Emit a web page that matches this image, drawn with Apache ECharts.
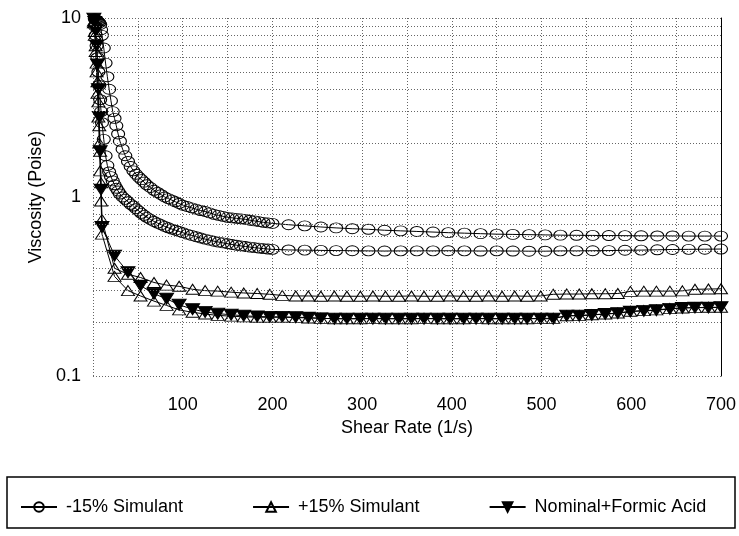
<!DOCTYPE html>
<html>
<head>
<meta charset="utf-8">
<script src="https://cdn.jsdelivr.net/npm/echarts@6/dist/echarts.min.js"></script>
<style>
  html, body { margin: 0; padding: 0; background: #fff; }
  #chart { width: 739px; height: 536px; }
</style>
</head>
<body>
<div id="chart"></div>
<script>
  // shear rate samples (1/s)
  var shearCirc = [2,3,4,5,6,7,8,9,10,12,14,16,18,20,22,24,26,28,30,33,36,39,42,45,48,51,54,57,
    60,64,68,72,76,80,84,88,92,96,100,105,110,115,120,125,130,135,140,145,150,155,160,165,170,175,
    180,185,190,195,200,218,236,254,271,289,307,325,343,361,379,396,414,432,450,468,486,504,521,
    539,557,575,593,611,629,646,664,682,700];
  var shearTri = [1,2,3,4,5,6,7,8,9,10,24,39,53,68,82,96,111,125,139,154,168,183,197,211,226,240,
    254,269,283,298,312,326,341,355,369,384,398,413,427,441,456,470,484,499,513,528,542,556,571,
    585,599,614,628,643,657,671,686,700];

  // viscosity (Poise)
  var minus15a = [9.9,9.8,9.7,9.6,9.5,9.4,9.2,8.6,8.0, 6.8,5.6,4.7,4.0,3.45,3.0,2.75,2.5,2.25,2.05,
    1.85,1.7,1.58,1.48,1.4,1.34,1.29,1.25,1.21, 1.17,1.13,1.09,1.06,1.03,1.0,0.98,0.96,0.94,0.92,0.90,
    0.885,0.87,0.855,0.84,0.83,0.815,0.80,0.79,0.78,0.77,0.765,0.76,0.755,0.75,0.742,0.735,0.728,0.722,0.717,0.712,
    0.70,0.69,0.68,0.672,0.665,0.66,0.652,0.647,0.642,0.637,0.632,0.628,0.624,0.62,0.618,0.616,0.614,
    0.612,0.611,0.61,0.609,0.608,0.607,0.606,0.606,0.605,0.605,0.605];
  var minus15b = [9.0,8.0,7.0,6.0,5.0,4.2,3.5,3.0,2.6, 2.1,1.7,1.5,1.38,1.3,1.23,1.17,1.12,1.08,1.04,
    1.0,0.97,0.94,0.91,0.89,0.86,0.835,0.81,0.79, 0.77,0.75,0.73,0.715,0.70,0.685,0.673,0.662,0.652,0.642,0.632,
    0.62,0.61,0.60,0.59,0.582,0.574,0.566,0.56,0.554,0.548,0.543,0.538,0.533,0.529,0.525,0.521,0.518,0.515,0.512,0.51,
    0.506,0.505,0.503,0.502,0.501,0.50,0.499,0.50,0.50,0.50,0.501,0.50,0.499,0.50,0.499,0.498,0.498,
    0.50,0.50,0.501,0.502,0.504,0.505,0.507,0.509,0.51,0.511,0.512];
  var plus15a = [9.6,8.4,7.0,5.6,4.4,3.4,2.5,1.8,1.2,0.75,
    0.40,0.37,0.355,0.333,0.322,0.317,0.305,0.30,0.298,0.294,0.291,0.289,0.286,0.282,0.28,0.28,0.279,
    0.28,0.279,0.279,0.28,0.279,0.279,0.28,0.279,0.279,0.28,0.279,0.279,0.28,0.279,0.28,0.279,0.28,
    0.286,0.287,0.287,0.288,0.288,0.289,0.297,0.298,0.298,0.298,0.299,0.305,0.306,0.307];
  var plus15b = [9.4,8.0,6.5,5.0,3.8,2.8,2.0,1.4,0.95,0.62,
    0.36,0.30,0.28,0.262,0.248,0.234,0.227,0.222,0.218,0.216,0.214,0.213,0.213,0.213,0.212,0.211,0.21,
    0.209,0.209,0.209,0.21,0.209,0.209,0.209,0.21,0.209,0.209,0.209,0.21,0.209,0.209,0.209,0.209,0.21,
    0.21,0.217,0.218,0.22,0.222,0.225,0.23,0.232,0.234,0.238,0.24,0.241,0.242,0.242];
  var formic = [9.9,9.5,8.5,7.0,5.5,4.0,2.8,1.8,1.1,0.68,
    0.47,0.38,0.32,0.288,0.27,0.25,0.236,0.228,0.223,0.22,0.217,0.215,0.214,0.214,0.213,0.212,0.21,
    0.209,0.209,0.209,0.209,0.209,0.209,0.209,0.209,0.209,0.209,0.209,0.209,0.209,0.209,0.209,0.209,0.209,
    0.209,0.217,0.217,0.219,0.222,0.224,0.229,0.231,0.233,0.237,0.24,0.241,0.241,0.242];

  var minorGrid = [0.2,0.3,0.4,0.5,0.6,0.7,0.8,0.9,2,3,4,5,6,7,8,9];
  var legendNames = ['-15% Simulant', '+15% Simulant', 'Nominal+Formic Acid'];

  function pairs(xs, ys) {
    return xs.map(function (x, i) { return [x, ys[i]]; });
  }

  var font = 'Liberation Sans, Arial, sans-serif';
  var dotted = { color: '#666', type: [1, 2], width: 1 };

  function openSeries(name, xs, ys, symbol, size) {
    return {
      name: name,
      type: 'line',
      data: pairs(xs, ys),
      symbol: symbol,
      symbolSize: size,
      lineStyle: { color: '#000', width: 1 },
      itemStyle: { color: 'transparent', borderColor: '#000', borderWidth: 1 },
      z: 3
    };
  }

  var chart = echarts.init(document.getElementById('chart'));
  var series = [
    openSeries('-15% Simulant', shearCirc, minus15a, 'circle', [13, 10]),
    openSeries('-15% Simulant', shearCirc, minus15b, 'circle', [13, 10]),
    openSeries('+15% Simulant', shearTri, plus15a, 'triangle', [13, 10]),
    {
      name: 'Nominal+Formic Acid',
      type: 'line',
      data: pairs(shearTri, formic),
      symbol: 'triangle',
      symbolRotate: 180,
      symbolSize: [14, 11],
      lineStyle: { color: '#000', width: 1 },
      itemStyle: { color: '#000', borderColor: '#000', borderWidth: 1 },
      z: 3
    },
    openSeries('+15% Simulant', shearTri, plus15b, 'triangle', [13, 10])
  ];
  series[0].markLine = {
    silent: true,
    symbol: ['none', 'none'],
    label: { show: false },
    lineStyle: dotted,
    data: minorGrid.map(function (v) { return { yAxis: v }; })
  };

  var option = {
    animation: false,
    textStyle: { fontFamily: font },
    grid: { left: 93, right: 17, top: 18, bottom: 160 },
    legend: {
      data: legendNames,
      left: 15,
      top: 493,
      itemWidth: 36,
      itemHeight: 12,
      itemGap: 69,
      textStyle: { fontSize: 18, color: '#000', fontFamily: font, padding: [0, 0, 0, 4] }
    },
    graphic: [{
      type: 'rect',
      shape: { x: 7, y: 477, width: 728, height: 51 },
      style: { fill: 'none', stroke: '#000', lineWidth: 1.5 },
      silent: true
    }],
    xAxis: {
      type: 'value',
      min: 0,
      max: 700,
      interval: 50,
      name: 'Shear Rate (1/s)',
      nameLocation: 'middle',
      nameGap: 42,
      nameTextStyle: { fontSize: 18, color: '#000' },
      axisLine: { show: false },
      axisTick: { show: false },
      axisLabel: {
        fontSize: 18,
        color: '#000',
        margin: 20,
        formatter: function (v) { return (v > 0 && v % 100 === 0) ? String(v) : ''; }
      },
      splitLine: { show: true, lineStyle: dotted }
    },
    yAxis: [{
      type: 'log',
      logBase: 10,
      min: 0.1,
      max: 10,
      name: 'Viscosity (Poise)',
      nameLocation: 'middle',
      nameGap: 45,
      nameTextStyle: { fontSize: 18, color: '#000' },
      axisLine: { show: false },
      axisTick: { show: false },
      axisLabel: { fontSize: 18, color: '#000', margin: 12 },
      splitLine: { show: true, lineStyle: dotted }
    }, {
      type: 'log',
      logBase: 10,
      min: 0.1,
      max: 10,
      position: 'right',
      axisLine: { show: true, lineStyle: { color: '#000', width: 1 } },
      axisTick: { show: false },
      axisLabel: { show: false },
      splitLine: { show: false }
    }],
    series: series
  };
  chart.setOption(option);
</script>
</body>
</html>
